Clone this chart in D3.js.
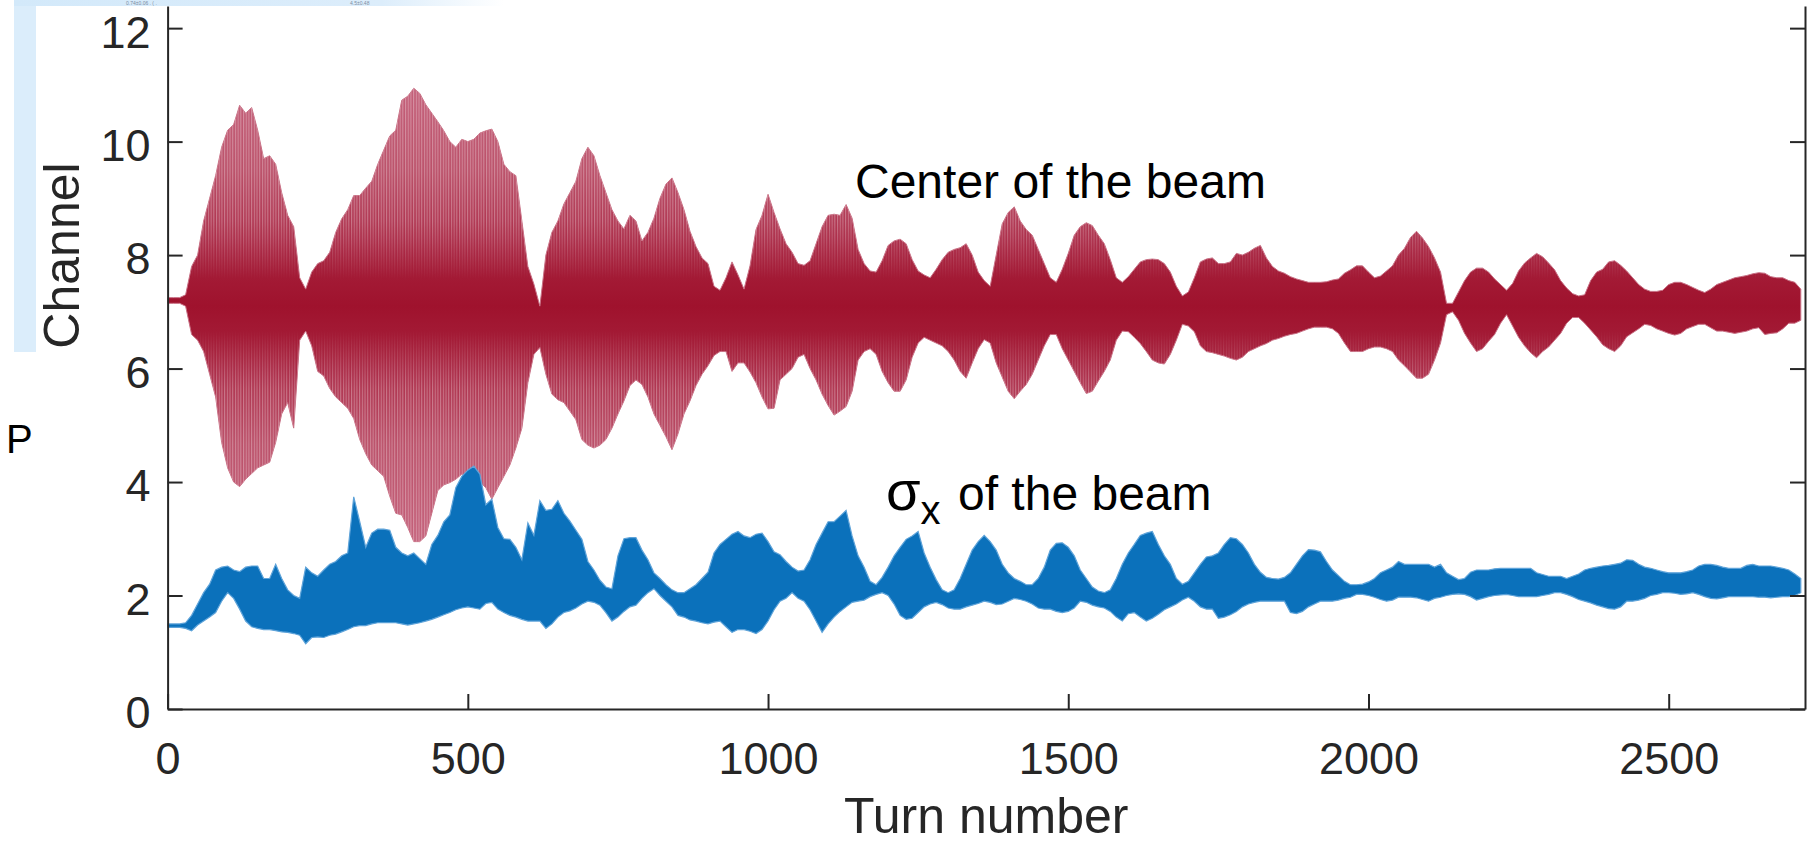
<!DOCTYPE html>
<html>
<head>
<meta charset="utf-8">
<script src="https://cdn.jsdelivr.net/npm/d3@7"></script>
<style>
  body { margin: 0; background: #fff; }
  svg { display: block; }
  text { font-family: "Liberation Sans", Arial, Helvetica, sans-serif; }
</style>
</head>
<body>
<svg width="1814" height="845"></svg>
<script>
// envelopes, one value every 10 turns (0 .. 2720)
const turnStep = 10

// centre of the beam: upper / lower reach of the oscillation
const redHi = [
  7.25,7.25,7.25,7.3,7.8,8.0,8.6,9.0,9.4,9.9,
  10.2,10.3,10.64,10.5,10.6,10.2,9.7,9.75,9.6,9.1,
  8.7,8.5,7.6,7.4,7.7,7.85,7.9,8.05,8.4,8.64,
  8.8,9.05,9.05,9.18,9.3,9.6,9.85,10.1,10.2,10.73,
  10.8,10.94,10.85,10.65,10.5,10.35,10.19,10.0,9.9,10.04,
  10.0,10.04,10.15,10.19,10.22,10.0,9.6,9.47,9.4,8.6,
  7.8,7.49,7.1,8.0,8.4,8.6,8.9,9.1,9.3,9.7,
  9.9,9.75,9.4,9.1,8.8,8.6,8.46,8.7,8.6,8.25,
  8.4,8.65,9.0,9.25,9.36,9.1,8.8,8.42,8.15,7.95,
  7.85,7.45,7.38,7.6,7.88,7.65,7.4,7.81,8.45,8.7,
  9.07,8.75,8.46,8.2,8.05,7.85,7.82,7.9,8.2,8.5,
  8.7,8.72,8.7,8.89,8.65,8.1,7.85,7.72,7.7,7.9,
  8.17,8.25,8.28,8.2,7.92,7.72,7.65,7.6,7.75,7.92,
  8.05,8.1,8.13,8.2,8.0,7.7,7.55,7.45,8.0,8.55,
  8.75,8.85,8.6,8.45,8.35,8.1,7.85,7.6,7.52,7.75,
  8.03,8.35,8.5,8.57,8.52,8.35,8.2,7.92,7.6,7.52,
  7.62,7.75,7.88,7.92,7.93,7.92,7.85,7.7,7.45,7.28,
  7.35,7.6,7.88,7.93,7.95,7.85,7.85,7.88,8.03,8.0,
  8.05,8.12,8.17,7.95,7.8,7.72,7.68,7.62,7.58,7.55,
  7.52,7.52,7.52,7.53,7.56,7.58,7.68,7.74,7.81,7.81,
  7.7,7.6,7.63,7.72,7.81,8.0,8.12,8.31,8.42,8.3,
  8.15,7.95,7.7,7.15,7.15,7.35,7.55,7.7,7.77,7.77,
  7.7,7.58,7.48,7.38,7.5,7.72,7.86,7.95,8.03,7.97,
  7.86,7.74,7.55,7.42,7.32,7.28,7.3,7.55,7.7,7.75,
  7.88,7.9,7.82,7.72,7.6,7.48,7.4,7.36,7.36,7.38,
  7.48,7.52,7.52,7.48,7.43,7.38,7.34,7.4,7.48,7.52,
  7.56,7.6,7.62,7.64,7.67,7.69,7.68,7.62,7.6,7.6,
  7.55,7.52,7.4
]
const redLo = [
  7.15,7.15,7.15,7.1,6.6,6.5,6.3,5.9,5.5,4.7,
  4.25,4.0,3.92,4.05,4.15,4.25,4.3,4.35,4.7,5.2,
  5.4,4.95,6.5,6.66,6.4,5.95,5.87,5.65,5.5,5.4,
  5.3,5.12,4.75,4.5,4.3,4.2,4.1,3.75,3.45,3.42,
  3.2,2.95,2.95,3.05,3.45,3.85,3.95,3.99,4.05,4.14,
  4.1,4.0,4.0,3.9,3.7,3.9,4.1,4.3,4.6,4.95,
  5.75,6.25,6.37,5.9,5.55,5.45,5.4,5.25,5.1,4.75,
  4.65,4.6,4.65,4.75,4.95,5.2,5.43,5.7,5.8,5.72,
  5.5,5.2,5.0,4.8,4.57,4.85,5.2,5.43,5.7,5.9,
  6.05,6.23,6.3,6.3,5.95,6.1,6.1,5.94,5.75,5.5,
  5.29,5.3,5.8,5.9,6.0,6.2,6.25,6.0,5.8,5.55,
  5.35,5.18,5.25,5.33,5.6,6.15,6.3,6.35,6.25,5.95,
  5.75,5.6,5.6,5.8,6.2,6.45,6.55,6.5,6.45,6.4,
  6.3,6.15,5.95,5.83,6.1,6.35,6.51,6.45,6.1,5.85,
  5.6,5.47,5.6,5.72,5.9,6.15,6.4,6.6,6.6,6.35,
  6.15,5.95,5.75,5.56,5.6,5.78,5.95,6.15,6.5,6.66,
  6.65,6.55,6.44,6.3,6.15,6.1,6.08,6.25,6.5,6.78,
  6.75,6.65,6.4,6.3,6.28,6.25,6.22,6.18,6.15,6.2,
  6.3,6.35,6.4,6.44,6.5,6.53,6.57,6.6,6.62,6.66,
  6.7,6.73,6.73,6.73,6.7,6.62,6.45,6.3,6.3,6.3,
  6.35,6.38,6.38,6.35,6.3,6.15,6.05,5.94,5.83,5.83,
  5.9,6.15,6.45,6.95,7.0,6.85,6.62,6.45,6.3,6.35,
  6.48,6.6,6.8,6.95,6.75,6.55,6.4,6.28,6.19,6.3,
  6.38,6.5,6.62,6.8,6.9,6.9,6.8,6.68,6.56,6.42,
  6.35,6.3,6.4,6.56,6.63,6.7,6.78,6.76,6.7,6.66,
  6.62,6.59,6.62,6.7,6.74,6.78,6.78,6.72,6.66,6.66,
  6.64,6.62,6.64,6.66,6.7,6.72,6.6,6.62,6.63,6.7,
  6.8,6.8,6.85
]

// sigma_x of the beam: upper / lower reach
const blueHi = [
  1.5,1.5,1.5,1.52,1.65,1.85,2.05,2.2,2.45,2.5,
  2.52,2.45,2.42,2.5,2.52,2.52,2.3,2.3,2.55,2.3,
  2.1,2.0,1.95,2.5,2.4,2.34,2.45,2.55,2.6,2.7,
  2.75,3.74,3.3,2.85,3.1,3.17,3.17,3.15,2.85,2.75,
  2.7,2.75,2.65,2.55,2.9,3.06,3.3,3.42,3.9,4.1,
  4.21,4.28,4.14,3.6,3.7,3.2,3.0,2.99,2.85,2.63,
  3.28,3.06,3.67,3.5,3.52,3.67,3.45,3.31,3.15,2.99,
  2.6,2.45,2.27,2.15,2.12,2.7,3.0,3.02,3.02,2.8,
  2.63,2.4,2.3,2.19,2.1,2.05,2.05,2.12,2.19,2.3,
  2.41,2.75,2.9,2.99,3.08,3.13,3.05,3.02,3.08,3.1,
  2.95,2.77,2.72,2.6,2.5,2.43,2.45,2.63,2.9,3.1,
  3.3,3.3,3.4,3.5,3.05,2.7,2.5,2.25,2.19,2.32,
  2.5,2.7,2.85,2.99,3.05,3.13,2.75,2.5,2.28,2.1,
  2.05,2.1,2.3,2.55,2.8,2.95,3.06,2.95,2.8,2.55,
  2.4,2.3,2.25,2.19,2.19,2.3,2.5,2.8,2.92,2.93,
  2.85,2.7,2.45,2.3,2.15,2.08,2.05,2.1,2.3,2.55,
  2.75,2.9,3.06,3.1,3.13,2.9,2.7,2.55,2.3,2.2,
  2.25,2.4,2.55,2.68,2.7,2.75,2.9,3.02,3.0,2.9,
  2.75,2.55,2.41,2.32,2.3,2.29,2.32,2.4,2.55,2.7,
  2.81,2.8,2.77,2.6,2.45,2.35,2.25,2.19,2.19,2.2,
  2.24,2.3,2.4,2.45,2.5,2.6,2.55,2.55,2.55,2.55,
  2.55,2.5,2.55,2.4,2.34,2.28,2.3,2.41,2.45,2.45,
  2.45,2.47,2.48,2.48,2.48,2.48,2.48,2.48,2.4,2.37,
  2.34,2.34,2.34,2.3,2.34,2.38,2.45,2.48,2.5,2.52,
  2.53,2.55,2.57,2.63,2.62,2.55,2.5,2.48,2.45,2.42,
  2.4,2.4,2.4,2.42,2.45,2.52,2.55,2.55,2.53,2.5,
  2.48,2.48,2.48,2.53,2.55,2.52,2.52,2.52,2.5,2.48,
  2.45,2.38,2.3
]
const blueLo = [
  1.44,1.44,1.44,1.42,1.38,1.48,1.55,1.62,1.7,1.9,
  2.05,1.95,1.76,1.55,1.45,1.42,1.4,1.4,1.38,1.36,
  1.35,1.33,1.3,1.15,1.26,1.27,1.26,1.3,1.32,1.36,
  1.4,1.45,1.47,1.47,1.5,1.52,1.52,1.52,1.52,1.5,
  1.48,1.5,1.52,1.55,1.58,1.62,1.66,1.7,1.75,1.78,
  1.8,1.78,1.76,1.86,1.88,1.76,1.7,1.65,1.62,1.58,
  1.55,1.55,1.55,1.42,1.5,1.62,1.7,1.73,1.78,1.85,
  1.9,1.88,1.83,1.7,1.55,1.62,1.72,1.8,1.83,1.95,
  2.05,2.12,2.0,1.9,1.8,1.65,1.62,1.57,1.55,1.52,
  1.5,1.53,1.55,1.45,1.35,1.4,1.4,1.37,1.33,1.4,
  1.55,1.75,1.9,1.95,2.05,1.95,1.9,1.75,1.55,1.35,
  1.5,1.62,1.72,1.8,1.88,1.9,1.92,1.98,2.02,2.05,
  2.0,1.85,1.65,1.58,1.6,1.7,1.8,1.85,1.88,1.84,
  1.78,1.76,1.76,1.8,1.83,1.86,1.9,1.88,1.84,1.85,
  1.9,1.95,1.93,1.9,1.85,1.78,1.76,1.76,1.72,1.7,
  1.72,1.78,1.9,1.88,1.83,1.8,1.78,1.72,1.62,1.55,
  1.68,1.7,1.62,1.55,1.6,1.67,1.75,1.8,1.85,1.92,
  1.97,1.9,1.8,1.76,1.76,1.6,1.62,1.66,1.72,1.8,
  1.85,1.88,1.9,1.9,1.9,1.9,1.9,1.7,1.68,1.72,
  1.8,1.85,1.9,1.9,1.9,1.92,1.95,1.97,2.02,2.02,
  2.0,1.97,1.93,1.9,1.92,1.97,1.97,1.97,1.96,1.93,
  1.9,1.95,1.97,2.0,2.02,2.03,2.02,1.98,1.92,1.95,
  1.98,2.0,2.01,2.02,2.0,1.98,1.98,1.98,1.98,2.0,
  2.02,2.05,2.05,2.02,1.98,1.93,1.9,1.87,1.83,1.8,
  1.77,1.76,1.8,1.9,1.9,1.92,1.95,2.0,2.02,2.05,
  2.05,2.04,2.02,2.03,2.05,2.02,1.98,1.95,1.94,1.96,
  1.98,1.98,1.98,1.98,1.98,1.97,1.97,1.96,1.97,1.98,
  1.98,2.0,2.05
]

const xTicks = [0, 500, 1000, 1500, 2000, 2500]
const yTicks = [0, 2, 4, 6, 8, 10, 12]

const svg = d3.select("svg")
const axisColor = "#262626"

const x = d3.scaleLinear().domain([0, 2727]).range([167.6, 1805])
const y = d3.scaleLinear().domain([0, 12.39]).range([709, 6])

const defs = svg.append("defs")

defs.append("clipPath").attr("id", "plot-clip")
  .append("rect")
  .attr("x", x(0)).attr("y", y(12.39))
  .attr("width", x(2727) - x(0)).attr("height", y(0) - y(12.39))

// darker where the turns overlap around the centre, lighter toward the peaks
const redGrad = defs.append("linearGradient")
  .attr("id", "red-grad")
  .attr("gradientUnits", "userSpaceOnUse")
  .attr("x1", 0).attr("x2", 0)
  .attr("y1", y(11)).attr("y2", y(3))
redGrad.selectAll("stop")
  .data([
    [0, "#c4607a"], [0.19, "#bb5069"], [0.34, "#ad2f4b"], [0.425, "#a31a35"],
    [0.4875, "#9f122d"], [0.55, "#a31a35"], [0.64, "#ad2f4b"], [0.79, "#bb5069"], [1, "#c4607a"]
  ])
  .enter().append("stop")
  .attr("offset", d => d[0])
  .attr("stop-color", d => d[1])

// the single turns show up as vertical strokes away from the centre
const edgeGrad = defs.append("linearGradient")
  .attr("id", "edge-grad")
  .attr("gradientUnits", "userSpaceOnUse")
  .attr("x1", 0).attr("x2", 0)
  .attr("y1", y(11)).attr("y2", y(3))
edgeGrad.selectAll("stop")
  .data([[0, "#fff"], [0.3, "#fff"], [0.43, "#000"], [0.54, "#000"], [0.67, "#fff"], [1, "#fff"]])
  .enter().append("stop")
  .attr("offset", d => d[0])
  .attr("stop-color", d => d[1])

defs.append("mask").attr("id", "edge-mask")
  .attr("maskUnits", "userSpaceOnUse")
  .attr("x", 0).attr("y", 0).attr("width", 1814).attr("height", 845)
  .append("rect")
  .attr("width", 1814).attr("height", 845)
  .attr("fill", "url(#edge-grad)")

const stripes = defs.append("pattern")
  .attr("id", "stripes")
  .attr("patternUnits", "userSpaceOnUse")
  .attr("width", 2.7).attr("height", 20)
stripes.append("rect")
  .attr("width", 1.1).attr("height", 20)
  .attr("fill", "#fff").attr("fill-opacity", 0.32)

const stripGrad = defs.append("linearGradient").attr("id", "strip-grad")
stripGrad.append("stop").attr("offset", 0).attr("stop-color", "#d3e9fa")
stripGrad.append("stop").attr("offset", 0.75).attr("stop-color", "#dcedfb")
stripGrad.append("stop").attr("offset", 1).attr("stop-color", "#ffffff")

const canvas = svg.append("g").attr("clip-path", "url(#plot-clip)")

function band(hi, lo) {
  return hi.map((h, i) => ({ t: i * turnStep, hi: h, lo: lo[i] }))
}

const area = d3.area()
  .x(d => x(d.t))
  .y0(d => y(d.lo))
  .y1(d => y(d.hi))

const redBand = band(redHi, redLo)

canvas.append("path")
  .datum(redBand)
  .attr("d", area)
  .attr("fill", "url(#red-grad)")
  .attr("stroke", "#c86f84")
  .attr("stroke-width", 1)

canvas.append("path")
  .datum(redBand)
  .attr("d", area)
  .attr("fill", "url(#stripes)")
  .attr("mask", "url(#edge-mask)")

canvas.append("path")
  .datum(band(blueHi, blueLo))
  .attr("d", area)
  .attr("fill", "#0b71bb")
  .attr("stroke", "#5ea3d9")
  .attr("stroke-width", 1.2)

// axes, MATLAB style: ticks pointing in, box on the right
const xAxis = svg.append("g")
  .attr("transform", "translate(0," + y(0) + ")")
  .call(d3.axisBottom(x).tickValues(xTicks).tickFormat(d3.format("d"))
    .tickSize(-15).tickSizeOuter(0).tickPadding(33))

const yAxis = svg.append("g")
  .attr("transform", "translate(" + x(0) + ",0)")
  .call(d3.axisLeft(y).tickValues(yTicks).tickFormat(d3.format("d"))
    .tickSize(-15).tickSizeOuter(0).tickPadding(17))

const rAxis = svg.append("g")
  .attr("transform", "translate(" + x(2727) + ",0)")
  .call(d3.axisRight(y).tickValues(yTicks).tickSize(-15).tickSizeOuter(0).tickFormat(""))

yAxis.selectAll(".tick text").attr("dy", "0.42em")

svg.selectAll(".domain, .tick line")
  .attr("stroke", axisColor)
  .attr("stroke-width", 2)
svg.selectAll(".tick text")
  .attr("fill", axisColor)
  .style("font-size", "45px")
  .style("font-family", '"Liberation Sans", Arial, sans-serif')

// axis titles
svg.append("text")
  .attr("x", (x(0) + x(2727)) / 2)
  .attr("y", 833)
  .attr("text-anchor", "middle")
  .attr("fill", axisColor)
  .style("font-size", "50px")
  .text("Turn number")

svg.append("text")
  .attr("transform", "translate(79,255.5) rotate(-90)")
  .attr("text-anchor", "middle")
  .attr("fill", axisColor)
  .style("font-size", "50px")
  .text("Channel")

// annotations
svg.append("text")
  .attr("x", 855).attr("y", 198)
  .attr("fill", "#000")
  .style("font-size", "48px")
  .text("Center of the beam")

const sig = svg.append("text")
  .attr("x", 886).attr("y", 510)
  .attr("fill", "#000")
  .style("font-size", "48px")
sig.append("tspan").style("font-size", "56px").text("σ")
sig.append("tspan").attr("dy", 14).style("font-size", "40px").text("x")
svg.append("text")
  .attr("x", 958).attr("y", 510)
  .attr("fill", "#000")
  .style("font-size", "48px")
  .text("of the beam")

svg.append("text")
  .attr("x", 6).attr("y", 453)
  .attr("fill", "#000")
  .style("font-size", "40px")
  .text("P")

// left-over pieces of a cropped screenshot around the figure
svg.append("rect")
  .attr("x", 14).attr("y", 0)
  .attr("width", 22).attr("height", 352)
  .attr("fill", "#dbedfb")

svg.append("rect")
  .attr("x", 14).attr("y", 0)
  .attr("width", 490).attr("height", 6)
  .attr("fill", "url(#strip-grad)")

svg.append("text")
  .attr("x", 126).attr("y", 5)
  .attr("fill", "#7d8da3")
  .style("font-size", "5px")
  .text("0.74±0.06  . (  .")
svg.append("text")
  .attr("x", 350).attr("y", 5)
  .attr("fill", "#7d8da3")
  .style("font-size", "5px")
  .text("4.5±0.48")
</script>
</body>
</html>
